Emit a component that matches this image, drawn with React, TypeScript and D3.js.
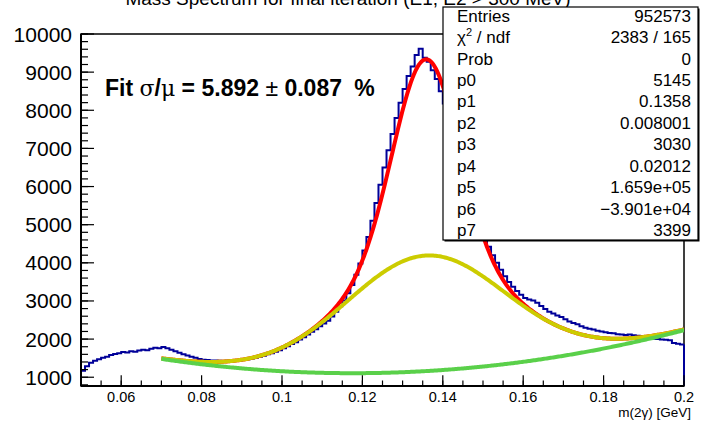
import React from "react";
import * as d3 from "d3";

// ---------- data ----------
const BIN_LOW = 0.05;
const BIN_WIDTH = 0.001;
const COUNTS = [
  1170, 1290, 1380, 1430, 1470, 1510, 1540, 1580, 1610, 1630,
  1660, 1650, 1680, 1670, 1700, 1720, 1710, 1750, 1770, 1760,
  1790, 1760, 1720, 1680, 1640, 1600, 1570, 1540, 1510, 1480,
  1460, 1450, 1440, 1440, 1430, 1420, 1430, 1420, 1430, 1440,
  1450, 1470, 1490, 1510, 1540, 1560, 1600, 1630, 1670, 1710,
  1760, 1810, 1870, 1920, 1990, 2050, 2120, 2190, 2260, 2340,
  2410, 2480, 2590, 2720, 2860, 3010, 3200, 3420, 3690, 3980,
  4320, 4680, 5100, 5570, 6050, 6500, 6950, 7380, 7800, 8200,
  8560, 8900, 9150, 9450, 9610, 9380, 9270, 9050, 8820, 8500,
  8180, 7780, 7350, 6900, 6450, 6020, 5620, 5400, 5100, 4850,
  4620, 4420, 4200, 4000, 3820, 3650, 3500, 3370, 3260, 3160,
  3080, 3040, 3010, 2950, 2870, 2790, 2720, 2670, 2620, 2580,
  2520, 2460, 2420, 2390, 2340, 2300, 2270, 2250, 2220, 2200,
  2180, 2160, 2150, 2130, 2120, 2110, 2120, 2100, 2090, 2080,
  2060, 2030, 2010, 2000, 1990, 1980, 1970, 1900, 1880, 1860,
];
// fit parameters as printed in the stats box
const FIT_PARAMS = [5145, 0.1358, 0.008001, 3030, 0.02012, 1.659e5, -3.901e4, 3399];
const FIT_RANGE = [0.07, 0.2];

const X_DOMAIN = [0.05, 0.2];
const Y_DOMAIN = [770, 10000];
const X_TICKS = [0.06, 0.08, 0.1, 0.12, 0.14, 0.16, 0.18, 0.2];
const X_TICK_LABELS = ["0.06", "0.08", "0.1", "0.12", "0.14", "0.16", "0.18", "0.2"];
const Y_TICKS = [1000, 2000, 3000, 4000, 5000, 6000, 7000, 8000, 9000, 10000];
const Y_TICK_LABELS = ["1000", "2000", "3000", "4000", "5000", "6000", "7000", "8000", "9000", "10000"];

const TITLE = "Mass Spectrum for final iteration (E1, E2 > 300 MeV)";
const X_TITLE = "m(2\u03b3) [GeV]";
const STATS_LABELS = ["Entries", "CHI2", "Prob", "p0", "p1", "p2", "p3", "p4", "p5", "p6", "p7"];
const STATS_VALUES = ["952573", "2383 / 165", "0", "5145", "0.1358", "0.008001", "3030", "0.02012", "1.659e+05", "\u22123.901e+04", "3399"];

// ---------- layout ----------
const W = 701;
const H = 422;
const FL = 81, FR = 684, FT = 34, FB = 386;
const FONT = "'Liberation Sans', Arial, Helvetica, sans-serif";
const GREEK = "'DejaVu Serif', 'Liberation Serif', serif";

const gaus = (x: number, a: number, m: number, s: number) => a * Math.exp(-0.5 * ((x - m) / s) ** 2);
const poly = (x: number, p: number[]) => p[5] * x * x + p[6] * x + p[7];
const fTotal = (x: number) =>
  gaus(x, FIT_PARAMS[0], FIT_PARAMS[1], FIT_PARAMS[2]) + gaus(x, FIT_PARAMS[3], FIT_PARAMS[1], FIT_PARAMS[4]) + poly(x, FIT_PARAMS);
const fBroad = (x: number) => gaus(x, FIT_PARAMS[3], FIT_PARAMS[1], FIT_PARAMS[4]) + poly(x, FIT_PARAMS);
const fPoly = (x: number) => poly(x, FIT_PARAMS);

export default function App() {
  const x = d3.scaleLinear().domain(X_DOMAIN).range([FL, FR]);
  const y = d3.scaleLinear().domain(Y_DOMAIN).range([FB, FT]);

  // histogram outline
  let hist = `M${x(BIN_LOW)},${FB}`;
  COUNTS.forEach((c, i) => {
    hist += `V${y(c)}H${x(BIN_LOW + (i + 1) * BIN_WIDTH)}`;
  });
  hist += `V${FB}`;

  const xs = d3.range(0, 401).map((i) => FIT_RANGE[0] + ((FIT_RANGE[1] - FIT_RANGE[0]) * i) / 400);
  const line = (f: (v: number) => number) =>
    d3.line<number>().x((v) => x(v)).y((v) => y(f(v))).curve(d3.curveLinear)(xs) as string;

  const xMinor = d3.range(0.05, 0.2001, 0.005);
  const yMinor = d3.range(800, 10001, 200);

  const statsX0 = 443, statsX1 = 698, statsY0 = 7, statsY1 = 240;
  const rowBase = (k: number) => 21.7 + 21.43 * k;

  return (
    <div style={{ position: "fixed", left: 0, top: 0, width: W, height: H, background: "#fff" }}>
      <svg width={W} height={H} viewBox={`0 0 ${W} ${H}`} style={{ display: "block", fontFamily: FONT }}>
        <defs>
          <clipPath id="frameClip">
            <rect x={FL} y={FT} width={FR - FL} height={FB - FT} />
          </clipPath>
        </defs>
        <rect x={0} y={0} width={W} height={H} fill="#fff" />

        {/* title */}
        <text x={348} y={5} textAnchor="middle" fontSize={19} fill="#000">
          {TITLE}
        </text>

        {/* frame */}
        <rect x={FL} y={FT} width={FR - FL} height={FB - FT} fill="none" stroke="#000" strokeWidth={1.5} />

        {/* histogram and fit curves */}
        <g clipPath="url(#frameClip)">
          <path d={hist} fill="none" stroke="#000099" strokeWidth={2} />
          <path d={line(fTotal)} fill="none" stroke="#ff0000" strokeWidth={4} />
          <path d={line(fBroad)} fill="none" stroke="#cccc00" strokeWidth={4} />
          <path d={line(fPoly)} fill="none" stroke="#5ad04a" strokeWidth={4} />
        </g>
        <line x1={x(BIN_LOW + COUNTS.length * BIN_WIDTH)} x2={x(BIN_LOW + COUNTS.length * BIN_WIDTH)} y1={y(COUNTS[COUNTS.length - 1])} y2={FB} stroke="#000099" strokeWidth={2} />

        {/* x axis */}
        <line x1={FL} x2={FR} y1={FB} y2={FB} stroke="#000" strokeWidth={2} />
        {xMinor.map((v, i) => (
          <line key={"xm" + i} x1={x(v)} x2={x(v)} y1={FB} y2={FB - 5.5} stroke="#000" strokeWidth={1.2} />
        ))}
        {X_TICKS.map((v, i) => (
          <g key={"xt" + i}>
            <line x1={x(v)} x2={x(v)} y1={FB} y2={FB - 10.7} stroke="#000" strokeWidth={1.2} />
            <text x={x(v)} y={402} textAnchor="middle" fontSize={14.5} fill="#000">
              {X_TICK_LABELS[i]}
            </text>
          </g>
        ))}
        <text x={691} y={417} textAnchor="end" fontSize={13.5} fill="#000">
          {X_TITLE}
        </text>

        {/* y axis */}
        <line x1={FL} x2={FL} y1={FT} y2={FB} stroke="#000" strokeWidth={2} />
        {yMinor.map((v, i) => (
          <line key={"ym" + i} x1={FL} x2={FL + 7} y1={y(v)} y2={y(v)} stroke="#000" strokeWidth={1.2} />
        ))}
        {Y_TICKS.map((v, i) => (
          <g key={"yt" + i}>
            <line x1={FL} x2={FL + 13} y1={y(v)} y2={y(v)} stroke="#000" strokeWidth={1.2} />
            <text x={72} y={y(v) + 7.5} textAnchor="end" fontSize={21} fill="#000">
              {Y_TICK_LABELS[i]}
            </text>
          </g>
        ))}

        {/* fit label */}
        <text x={105} y={96} fontSize={23} fill="#000">
          <tspan fontWeight="bold">Fit  </tspan>
          <tspan fontFamily={GREEK} fontSize={22}>σ</tspan>
          <tspan fontWeight="bold">/</tspan>
          <tspan fontFamily={GREEK} fontSize={22}>μ</tspan>
          <tspan fontWeight="bold"> = 5.892 </tspan>
          <tspan>±</tspan>
          <tspan fontWeight="bold"> 0.087</tspan>
          <tspan fontWeight="bold" dx={6}> %</tspan>
        </text>

        {/* stats box */}
        <rect x={statsX0 + 1.5} y={statsY0 + 1.5} width={statsX1 - statsX0} height={statsY1 - statsY0} fill="#000" />
        <rect x={statsX0} y={statsY0} width={statsX1 - statsX0} height={statsY1 - statsY0} fill="#fff" stroke="#000" strokeWidth={1.2} />
        {STATS_LABELS.map((lab, k) => (
          <g key={"st" + k}>
            {lab === "CHI2" ? (
              <text x={457} y={rowBase(k)} fontSize={17} fill="#000">
                <tspan>χ</tspan>
                <tspan fontSize={11} dy={-7}>2</tspan>
                <tspan dy={7}> / ndf</tspan>
              </text>
            ) : (
              <text x={457} y={rowBase(k)} fontSize={17} fill="#000">
                {lab}
              </text>
            )}
            <text x={691} y={rowBase(k)} fontSize={17} textAnchor="end" fill="#000">
              {STATS_VALUES[k]}
            </text>
          </g>
        ))}
      </svg>
    </div>
  );
}
